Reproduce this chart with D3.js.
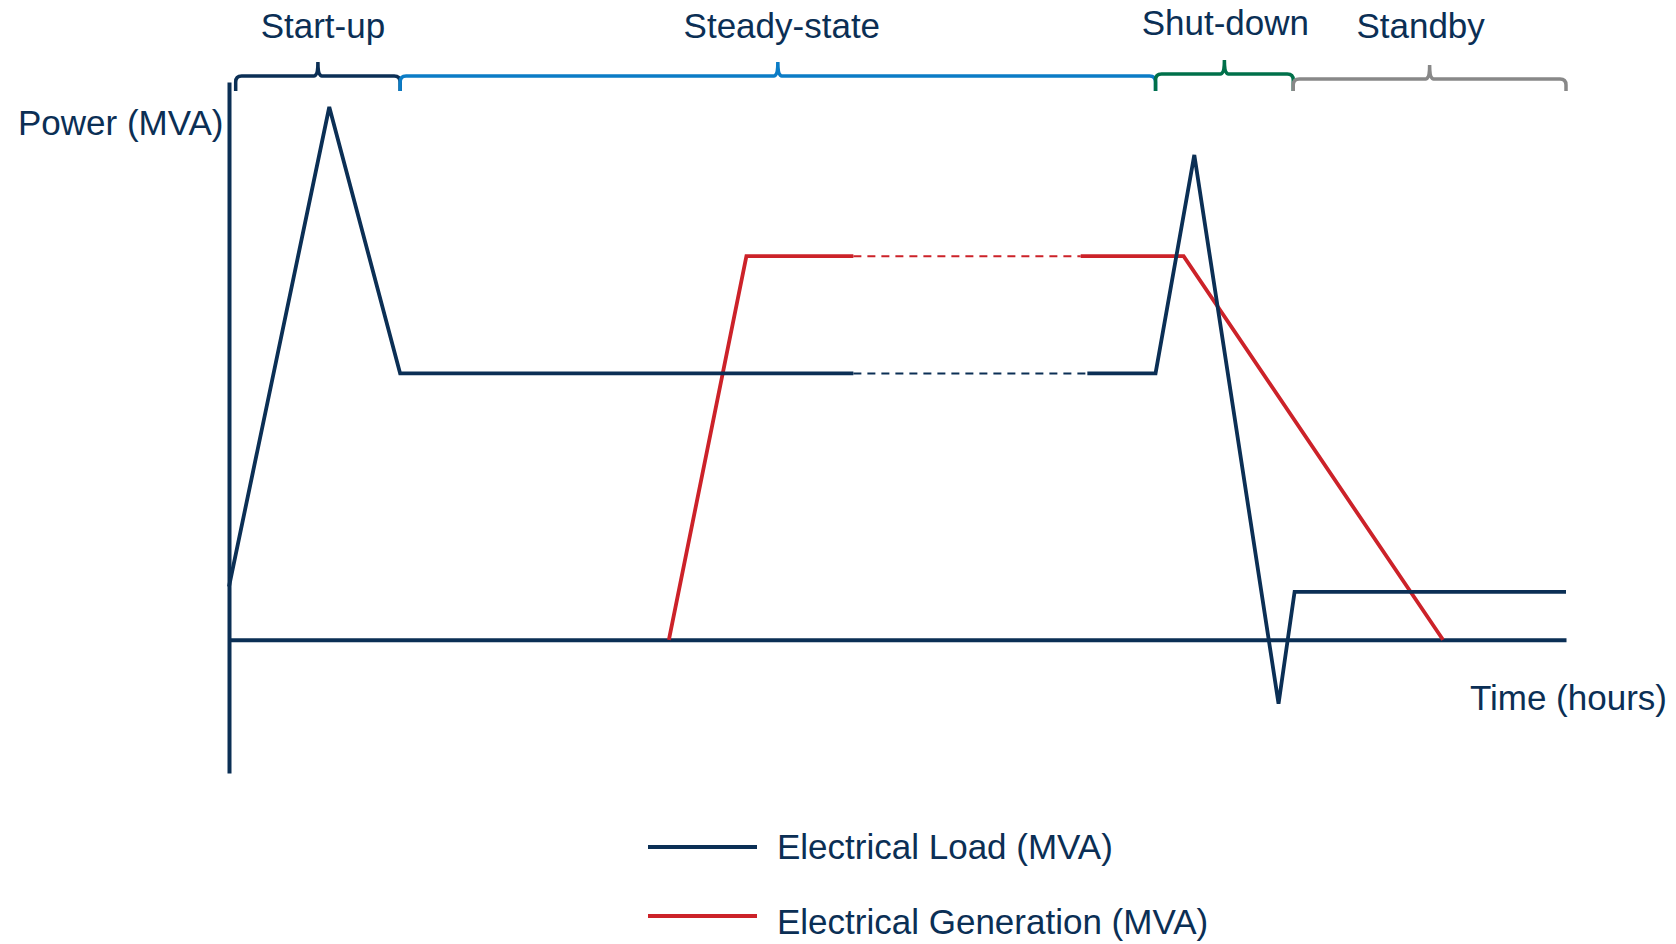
<!DOCTYPE html>
<html>
<head>
<meta charset="utf-8">
<script src="https://cdn.jsdelivr.net/npm/d3@7"></script>
<style>
  body { margin: 0; background: #fff; }
  text { font-family: "Liberation Sans", Arial, sans-serif; fill: #0b2f55; }
</style>
</head>
<body>
<div id="chart"></div>
<script>
// phases of operation (hours, arbitrary units)
var phaseNames = ["Start-up", "Steady-state", "Shut-down", "Standby"];
var phaseStart = [0.5, 12.8, 69.3, 79.6];
var phaseEnd   = [12.8, 69.3, 79.6, 100];
var phaseColors = ["#0b2f55", "#0b7cc6", "#00704a", "#888888"];

// electrical load (MVA) - solid / dashed / solid pieces
var loadA = [[0, 10], [7.5, 100], [12.8, 50], [46.7, 50]];
var loadGap = [[46.7, 50], [64.2, 50]];
var loadB = [[64.2, 50], [69.3, 50], [72.2, 91], [78.5, -12], [79.7, 9], [100, 9]];

// electrical generation (MVA)
var genA = [[32.9, 0], [38.7, 72], [46.7, 72]];
var genGap = [[46.7, 72], [63.7, 72]];
var genB = [[63.7, 72], [71.4, 72], [90.8, 0]];

var legendLabels = ["Electrical Load (MVA)", "Electrical Generation (MVA)"];
var navy = "#0b2f55", red = "#cc2229";

var width = 1676, height = 944;
var svg = d3.select("#chart").append("svg")
    .attr("width", width)
    .attr("height", height);

var x = d3.scaleLinear().domain([0, 100]).range([229, 1566]);
var y = d3.scaleLinear().domain([-25, 100]).range([773, 107]);

// axes without ticks
svg.append("g")
    .attr("transform", "translate(0," + y(0) + ")")
    .call(d3.axisBottom(x).tickValues([]).tickSizeOuter(0))
    .select(".domain")
    .attr("stroke", navy)
    .attr("stroke-width", 4);

var yAxis = d3.scaleLinear().domain([-25, 113]).range([773, 82]);
svg.append("g")
    .attr("transform", "translate(" + x(0) + ",0)")
    .call(d3.axisLeft(yAxis).tickValues([]).tickSizeOuter(0))
    .select(".domain")
    .attr("stroke", navy)
    .attr("stroke-width", 4);

svg.append("text")
    .attr("x", 18)
    .attr("y", 135)
    .style("font-size", "35px")
    .text("Power (MVA)");

svg.append("text")
    .attr("x", 1667)
    .attr("y", 710)
    .attr("text-anchor", "end")
    .style("font-size", "35px")
    .text("Time (hours)");

var line = d3.line()
    .x(function(d) { return x(d[0]); })
    .y(function(d) { return y(d[1]); });

function drawPiece(pts, color, dashed) {
    svg.append("path")
        .datum(pts)
        .attr("d", line)
        .attr("fill", "none")
        .attr("stroke", color)
        .attr("stroke-width", dashed ? 2 : 3.8)
        .attr("stroke-linejoin", "miter")
        .attr("stroke-dasharray", dashed ? "8,6" : null);
}

drawPiece(genA, red, false);
drawPiece(genGap, red, true);
drawPiece(genB, red, false);
drawPiece(loadA, navy, false);
drawPiece(loadGap, navy, true);
drawPiece(loadB, navy, false);

// curly brackets over each phase
var braceY = [76, 76, 74, 79];
var labelShift = [5, 4, 1, -9];
var braceBottom = 91;
var tickH = 14;
phaseNames.forEach(function(name, i) {
    var x0 = x(phaseStart[i]), x1 = x(phaseEnd[i]);
    var xc = (x0 + x1) / 2, by = braceY[i];
    var r = 6;
    var p = d3.path();
    p.moveTo(x0, braceBottom);
    p.lineTo(x0, by + r);
    p.quadraticCurveTo(x0, by, x0 + r, by);
    p.lineTo(xc - 4, by);
    p.quadraticCurveTo(xc, by, xc, by - tickH);
    p.moveTo(xc, by - tickH);
    p.quadraticCurveTo(xc, by, xc + 4, by);
    p.lineTo(x1 - r, by);
    p.quadraticCurveTo(x1, by, x1, by + r);
    p.lineTo(x1, braceBottom);
    svg.append("path")
        .attr("d", p.toString())
        .attr("fill", "none")
        .attr("stroke", phaseColors[i])
        .attr("stroke-width", 3.5);

    svg.append("text")
        .attr("x", xc + labelShift[i])
        .attr("y", i === 2 ? 35 : 38)
        .attr("text-anchor", "middle")
        .style("font-size", "35px")
        .text(name);
});

// legend
var legend = svg.append("g").attr("transform", "translate(648,847)");
legendLabels.forEach(function(label, i) {
    var g = legend.append("g").attr("transform", "translate(0," + (i * 69) + ")");
    g.append("line")
        .attr("x1", 0).attr("x2", 109)
        .attr("stroke", i === 0 ? navy : red)
        .attr("stroke-width", 4);
    g.append("text")
        .attr("x", 129)
        .attr("y", i * 6)
        .attr("dy", "0.35em")
        .style("font-size", "35px")
        .text(label);
});
</script>
</body>
</html>
